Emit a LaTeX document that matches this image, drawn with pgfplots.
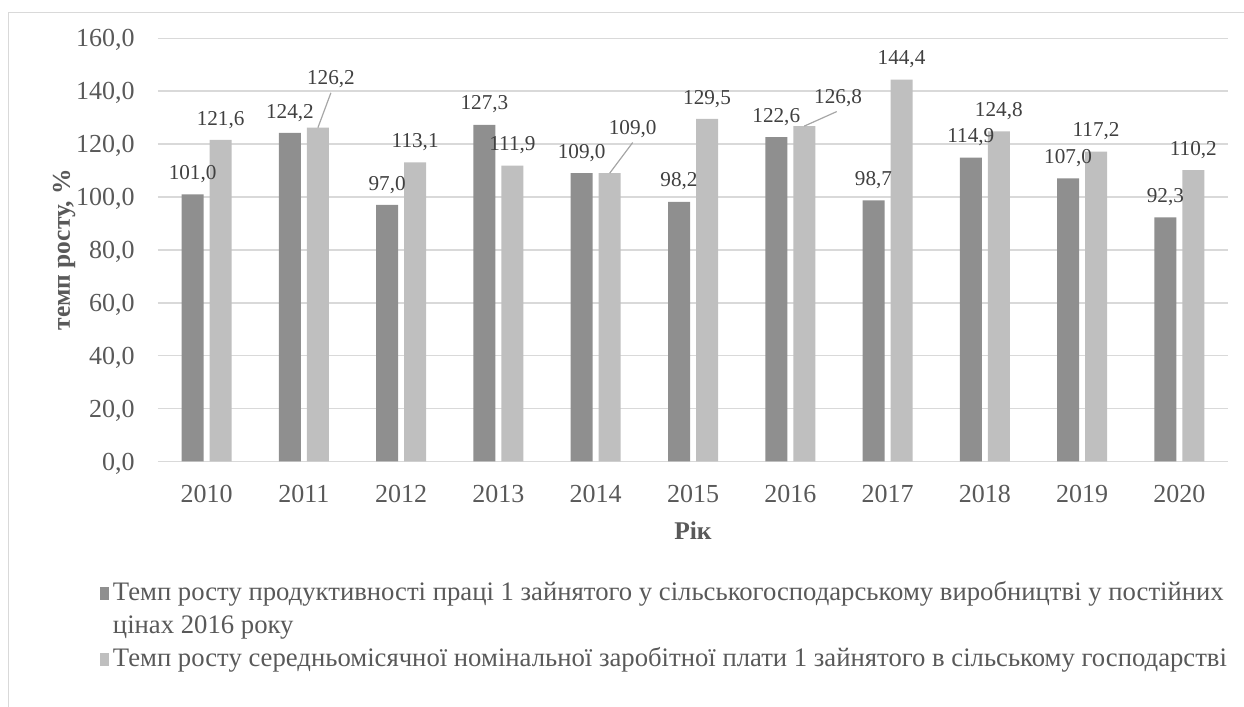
\documentclass[border=0pt]{standalone}
\usepackage{fontspec}
\setmainfont{Liberation Serif}
\usepackage{pgfplots}
\pgfplotsset{compat=1.18}
\usepackage{pgfplotstable}
\definecolor{darkbar}{RGB}{143,143,143}
\definecolor{lightbar}{RGB}{191,191,191}
\definecolor{gridc}{RGB}{217,217,217}
\definecolor{tickc}{RGB}{89,89,89}
\definecolor{labc}{RGB}{64,64,64}
\definecolor{leadc}{RGB}{166,166,166}

\pgfplotstableread{
x a b
0 101.0 121.6
1 124.2 126.2
2 97.0 113.1
3 127.3 111.9
4 109.0 109.0
5 98.2 129.5
6 122.6 126.8
7 98.7 144.4
8 114.9 124.8
9 107.0 117.2
10 92.3 110.2
}\datatable

\newcommand\lstrut{\rule[-5pt]{0pt}{17pt}}

\begin{document}
\begin{tikzpicture}
\useasboundingbox (0,0) rectangle (622pt,353.5pt);
\draw[gridc, line width=0.75pt] (4.15pt,0) -- (4.15pt,347.15pt) -- (622pt,347.15pt);
\begin{axis}[
  at={(79pt,122.75pt)}, anchor=south west,
  scale only axis, width=535pt, height=211.6pt,
  xmin=-0.5, xmax=10.5, ymin=0, ymax=160,
  enlargelimits=false,
  xtick={0,...,10},
  xticklabels={2010,2011,2012,2013,2014,2015,2016,2017,2018,2019,2020},
  ytick={0,20,...,160},
  axis line style={draw=none},
  major tick length=0pt,
  ymajorgrids, grid style={gridc, line width=0.75pt},
  /pgf/number format/.cd, fixed, fixed zerofill, precision=1, use comma, assume math mode=true,
  /pgfplots/.cd,
  ticklabel style={font=\fontsize{13}{15}\selectfont, text=tickc, inner sep=0pt},
  xticklabel style={anchor=base, yshift=-20.5pt},
  yticklabel style={anchor=base east, xshift=-11.5pt, yshift=-4.3pt},
  xlabel={Рік},
  ylabel={темп росту, \%},
  xlabel style={at={([yshift=-39pt]axis description cs:0.5,0)}, anchor=base, font=\bfseries\fontsize{12.75}{15}\selectfont, text=tickc, inner sep=0pt},
  ylabel style={at={([xshift=-44pt]axis description cs:0,0.5)}, rotate=0, anchor=base, font=\bfseries\fontsize{12.75}{15}\selectfont, text=tickc, inner sep=0pt},
  legend style={at={(axis description cs:-0.05421,-0.2706)}, anchor=north west, draw=none, fill=none,
    inner sep=0pt, outer sep=0pt, row sep=3pt, column sep=2pt,
    cells={anchor=base west},
    nodes={inner sep=0pt, text=tickc, font=\fontsize{13.35}{17}\selectfont}},
  clip=false,
  lab/.style={draw=none, forget plot, nodes near coords, point meta=y,
    nodes near coords style={anchor=base, font=\fontsize{10.6}{12}\selectfont, text=labc, inner sep=0pt}},
]
\addplot[ybar, bar width=11pt, bar shift=-7pt, fill=darkbar, draw=none,
  legend image code/.code={\fill[darkbar] (0pt,0pt) rectangle (4.5pt,6.5pt);}]
  table[x=x, y=a] {\datatable};
\addlegendentry{\lstrut Темп росту продуктивності праці 1 зайнятого у сільськогосподарському виробництві у постійних}
\addlegendimage{empty legend}
\addlegendentry{\lstrut цінах 2016 року}
\addplot[ybar, bar width=11pt, bar shift=7pt, fill=lightbar, draw=none,
  legend image code/.code={\fill[lightbar] (0pt,0pt) rectangle (4.5pt,6.5pt);}]
  table[x=x, y=b] {\datatable};
\addlegendentry{\lstrut Темп росту середньомісячної номінальної заробітної плати 1 зайнятого в сільському господарстві}
% data labels
\addplot[lab, nodes near coords style={xshift=-7pt, yshift=7.4pt}] table[x=x, y=a] {\datatable};
\addplot[lab, nodes near coords style={xshift=7pt, yshift=7.4pt}] coordinates {
  (0,121.6) (2,113.1) (3,111.9) (5,129.5) (7,144.4) (8,124.8) (9,117.2) (10,110.2)};
\addplot[lab, nodes near coords style={xshift=13.5pt, yshift=21.4pt}] coordinates {(1,126.2)};
\addplot[lab, nodes near coords style={xshift=18.5pt, yshift=19.25pt}] coordinates {(4,109.0)};
\addplot[lab, nodes near coords style={xshift=23.9pt, yshift=11.55pt}] coordinates {(6,126.8)};
\draw[leadc, line width=0.6pt] ([xshift=7pt]axis cs:1,126.2) -- ([xshift=13.5pt]axis cs:1,139.4);
\draw[leadc, line width=0.6pt] ([xshift=7pt]axis cs:4,109.0) -- ([xshift=18.5pt]axis cs:4,120.6);
\draw[leadc, line width=0.6pt] ([xshift=7pt]axis cs:6,126.8) -- ([xshift=23.25pt]axis cs:6,132.3);
\end{axis}
\end{tikzpicture}
\end{document}
